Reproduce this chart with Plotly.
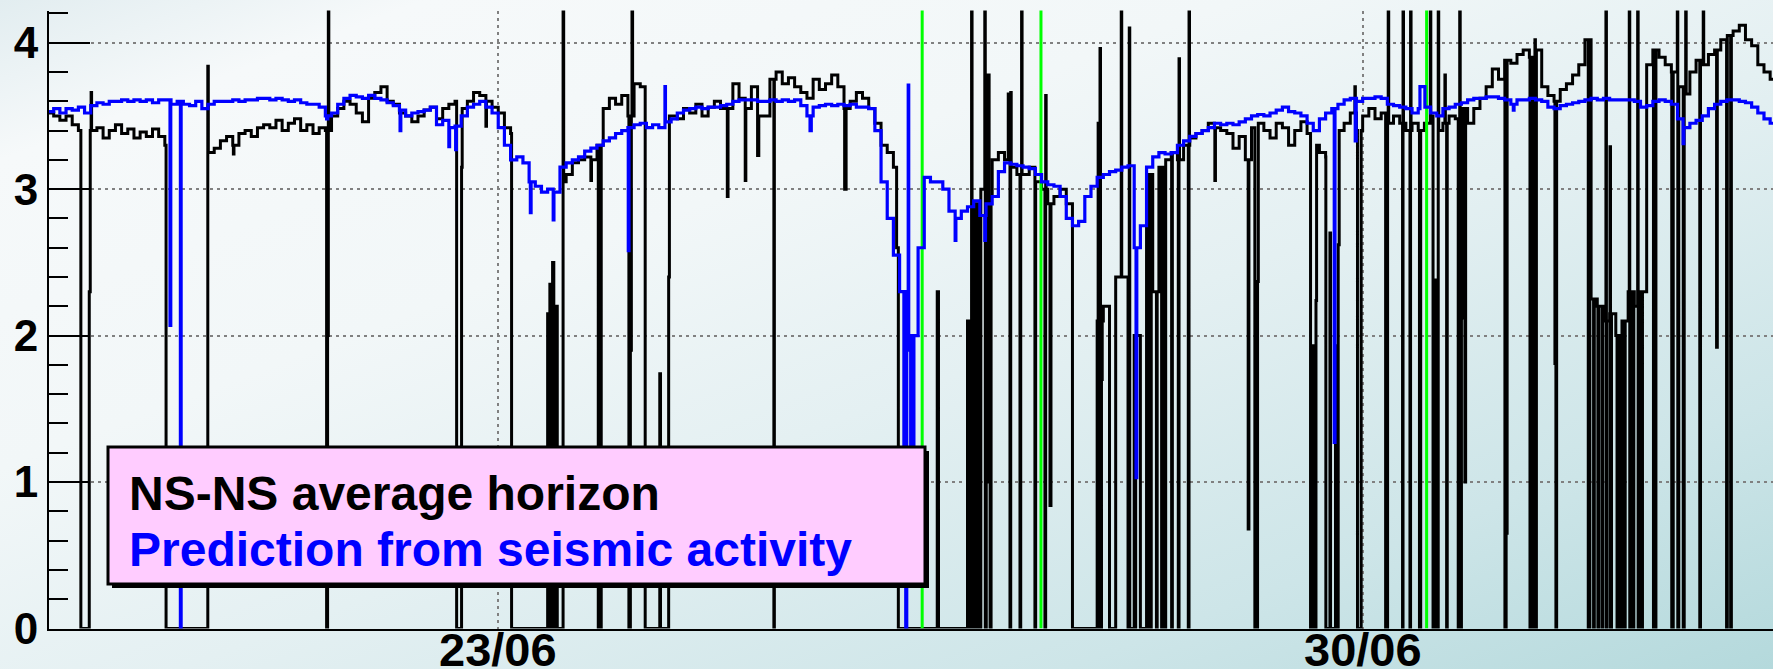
import base64
from bisect import bisect_right
from datetime import datetime, timedelta
import plotly.graph_objects as go

# ---------------- data (time in days of June; regular sampling) ----------------
T_START = 19.35
T_STEP = 0.05

# NS-NS average horizon (black), sampled every 0.05 day from 19.35
BLACK_V = [
    3.52, 3.50, 3.47, 3.50, 3.44, 3.40, 3.40, 3.40, 3.42, 3.35, 3.40, 3.44, 3.38,
    3.41, 3.35, 3.39, 3.36, 3.41, 3.36, 3.30, 3.35, 3.35, 3.35, 3.35, 3.35, 3.30, 3.25, 3.28, 3.33, 3.36, 3.30, 3.38, 3.40,
    3.36, 3.42, 3.44, 3.42, 3.47, 3.40, 3.45, 3.48, 3.40, 3.44, 3.38, 3.42, 3.40, 3.50, 3.55, 3.60, 3.58, 3.52, 3.46, 3.62,
    3.66, 3.70, 3.60, 3.58, 3.52, 3.50, 3.46, 3.50, 3.54, 3.56, 3.48, 3.55, 3.58, 3.60, 3.55, 3.60, 3.66, 3.64, 3.60, 3.56,
    3.52, 3.42, 3.38, 3.20, 3.20, 3.10, 3.00, 3.00, 3.00, 3.00, 3.05, 3.10, 3.18, 3.20, 3.22, 3.20, 3.30, 3.55, 3.62, 3.58,
    3.64, 3.50, 3.72, 3.70, 3.50, 3.50, 3.50, 3.50, 3.50, 3.48, 3.55, 3.52, 3.58, 3.50, 3.56, 3.60, 3.55, 3.55, 3.72, 3.62,
    3.55, 3.70, 3.50, 3.50, 3.75, 3.80, 3.72, 3.76, 3.70, 3.66, 3.62, 3.75, 3.68, 3.72, 3.78, 3.70, 3.55, 3.60, 3.66, 3.62,
    3.55, 3.45, 3.30, 3.25, 3.15, 0, 0, 0, 0, 0, 0, 0, 0, 0, 0, 0, 2.10, 2.90, 3.00, 2.95,
    3.20, 3.25, 3.20, 3.15, 3.10, 3.10, 3.15, 3.05, 3.00, 2.90, 2.95, 3.00, 2.90, 0, 0, 0, 0, 2.10, 2.20, 0,
    2.40, 2.40, 0, 2.00, 0, 3.10, 2.30, 3.15, 3.20, 3.25, 3.20, 3.30, 3.35, 3.38, 3.40, 3.45, 3.42, 3.40, 3.38, 3.28,
    3.36, 3.20, 3.42, 3.45, 3.40, 3.35, 3.45, 3.42, 3.30, 3.40, 3.46, 3.38, 3.30, 3.25, 3.22, 0, 3.40, 3.45, 3.52, 3.40,
    3.50, 3.55, 3.48, 3.52, 3.45, 3.50, 3.45, 3.40, 3.45, 3.40, 3.45, 3.50, 3.40, 3.45, 3.50, 3.48, 3.55, 3.45, 3.55, 3.62,
    3.70, 3.82, 3.75, 3.88, 3.86, 3.92, 3.95, 3.90, 3.95, 3.70, 3.64, 3.60, 3.68, 3.72, 3.78, 3.85, 4.02, 2.25, 2.20, 2.10,
    2.15, 2.00, 2.10, 2.30, 2.20, 2.30, 3.85, 3.95, 3.90, 3.85, 3.80, 3.70, 3.65, 3.80, 3.88, 3.85, 3.92, 3.95, 4.02, 4.05,
    4.08, 4.12, 4.02, 3.98, 3.85, 3.80, 3.75, 3.72,
]

# Prediction from seismic activity (blue), same sampling
BLUE_V = [
    3.53, 3.55, 3.52, 3.55, 3.54, 3.56, 3.52, 3.57, 3.59, 3.58, 3.60, 3.60, 3.61,
    3.60, 3.61, 3.60, 3.61, 3.59, 3.61, 3.61, 3.58, 3.60, 3.58, 3.57, 3.60, 3.55, 3.58, 3.60, 3.60, 3.60, 3.61, 3.60, 3.61,
    3.61, 3.62, 3.62, 3.61, 3.62, 3.61, 3.60, 3.61, 3.59, 3.58, 3.58, 3.56, 3.50, 3.52, 3.58, 3.62, 3.64, 3.63, 3.62, 3.64,
    3.62, 3.61, 3.59, 3.57, 3.54, 3.50, 3.52, 3.53, 3.54, 3.56, 3.44, 3.47, 3.42, 3.43, 3.50, 3.56, 3.58, 3.60, 3.56, 3.52,
    3.42, 3.30, 3.20, 3.22, 3.18, 3.05, 3.02, 2.98, 3.00, 2.98, 3.15, 3.18, 3.20, 3.22, 3.26, 3.28, 3.30, 3.33, 3.35, 3.38,
    3.40, 3.42, 3.44, 3.45, 3.42, 3.44, 3.42, 3.46, 3.48, 3.52, 3.54, 3.55, 3.56, 3.55, 3.56, 3.56, 3.57, 3.58, 3.60, 3.61,
    3.61, 3.61, 3.60, 3.60, 3.61, 3.60, 3.61, 3.60, 3.61, 3.57, 3.50, 3.56, 3.57, 3.58, 3.57, 3.58, 3.57, 3.58, 3.56, 3.56,
    3.55, 3.40, 3.05, 2.80, 2.55, 2.30, 1.90, 2.00, 2.60, 3.08, 3.05, 3.05, 3.00, 2.85, 2.80, 2.85, 2.88, 2.92, 2.82, 2.90,
    2.95, 3.12, 3.18, 3.17, 3.16, 3.15, 3.14, 3.10, 3.05, 3.03, 3.02, 2.95, 2.80, 2.75, 2.78, 2.95, 3.02, 3.08, 3.10, 3.12,
    3.13, 3.15, 3.16, 2.60, 2.75, 3.15, 3.22, 3.25, 3.24, 3.25, 3.30, 3.33, 3.36, 3.38, 3.40, 3.42, 3.45, 3.44, 3.45, 3.44,
    3.46, 3.48, 3.50, 3.51, 3.50, 3.52, 3.54, 3.56, 3.53, 3.52, 3.50, 3.45, 3.40, 3.48, 3.52, 3.55, 3.58, 3.61, 3.62, 3.60,
    3.62, 3.62, 3.63, 3.62, 3.58, 3.57, 3.56, 3.55, 3.52, 3.55, 3.56, 3.52, 3.50, 3.55, 3.56, 3.58, 3.59, 3.61, 3.62, 3.62,
    3.63, 3.63, 3.62, 3.61, 3.58, 3.61, 3.61, 3.62, 3.61, 3.60, 3.56, 3.55, 3.57, 3.58, 3.59, 3.60, 3.61, 3.62, 3.61, 3.62,
    3.61, 3.61, 3.61, 3.61, 3.60, 3.56, 3.57, 3.60, 3.61, 3.60, 3.58, 3.48, 3.42, 3.45, 3.47, 3.50, 3.55, 3.58, 3.60, 3.61,
    3.61, 3.60, 3.59, 3.56, 3.52, 3.48, 3.45, 3.44,
]

# short excursions of the black curve: (start day, value, duration in days)
BLACK_EVENTS = [
    (19.62, 0, 0.068), (19.688, 2.3, 0.008), (19.703, 3.66, 0.004),
    (20.31, 0, 0.338), (20.648, 3.84, 0.004), (20.855, 3.24, 0.005),
    (21.61, 0, 0.008), (21.618, 2.0, 0.006), (21.624, 4.6, 0.004),
    (22.663, 0, 0.04), (22.703, 3.15, 0.005), (22.90, 3.43, 0.005),
    (23.108, 0, 0.292), (23.40, 2.15, 0.008), (23.408, 0, 0.010), (23.418, 2.35, 0.010),
    (23.428, 0, 0.012), (23.44, 2.5, 0.010), (23.45, 0, 0.020), (23.47, 2.2, 0.008),
    (23.478, 0, 0.047), (23.525, 4.6, 0.005), (23.75, 3.06, 0.005),
    (23.81, 0, 0.006), (23.828, 0, 0.006),
    (24.058, 0, 0.012), (24.07, 1.9, 0.008), (24.083, 4.6, 0.005),
    (24.19, 0, 0.118), (24.308, 1.74, 0.006), (24.314, 0, 0.066), (24.38, 2.4, 0.006),
    (24.855, 2.95, 0.006), (25.00, 3.06, 0.005), (25.10, 3.23, 0.01), (25.232, 0, 0.004),
    (25.805, 3.0, 0.012),
    (26.226, 2.6, 0.014), (26.24, 0, 0.315), (26.555, 2.3, 0.01), (26.565, 0, 0.235),
    (26.80, 2.1, 0.01), (26.81, 0, 0.023), (26.833, 4.6, 0.004), (26.837, 0, 0.012),
    (26.87, 0, 0.008), (26.88, 1.5, 0.006), (26.90, 0, 0.008),
    (26.94, 4.6, 0.004), (26.944, 0, 0.008), (26.968, 3.78, 0.004),
    (26.975, 1.0, 0.008), (26.983, 0, 0.008),
    (27.13, 3.65, 0.004), (27.144, 0, 0.006), (27.15, 3.66, 0.004),
    (27.225, 0, 0.006), (27.238, 4.6, 0.004), (27.346, 0, 0.006),
    (27.427, 0, 0.006), (27.433, 3.64, 0.004), (27.468, 0.84, 0.008),
    (27.82, 0, 0.01), (27.858, 3.45, 0.004), (27.862, 0, 0.008), (27.873, 3.96, 0.004),
    (27.877, 0, 0.006), (27.885, 1.7, 0.006),
    (28.045, 4.6, 0.004), (28.11, 4.1, 0.004), (28.156, 0, 0.006),
    (28.264, 0, 0.008), (28.28, 0, 0.008), (28.33, 0, 0.006), (28.372, 0, 0.006),
    (28.399, 0, 0.006), (28.453, 0, 0.006), (28.507, 0, 0.006), (28.513, 3.89, 0.004),
    (28.588, 0, 0.006), (28.594, 4.6, 0.004), (28.803, 3.06, 0.005),
    (29.073, 0.68, 0.006), (29.127, 0, 0.022), (29.149, 2.37, 0.006),
    (29.578, 0, 0.02), (29.598, 1.93, 0.006), (29.604, 0, 0.018), (29.622, 2.24, 0.005),
    (29.702, 0, 0.033), (29.735, 2.7, 0.005), (29.74, 0, 0.04), (29.78, 1.93, 0.006),
    (29.786, 0, 0.016), (29.802, 2.62, 0.008),
    (29.937, 3.70, 0.004), (29.958, 0, 0.03),
    (30.186, 0, 0.016), (30.207, 4.6, 0.004), (30.323, 0, 0.004), (30.327, 4.6, 0.004),
    (30.383, 0, 0.005), (30.388, 4.6, 0.004), (30.46, 0, 0.01),
    (30.548, 4.6, 0.004), (30.57, 0, 0.02), (30.59, 2.38, 0.012), (30.602, 0, 0.01),
    (30.612, 4.6, 0.004), (30.666, 3.78, 0.004), (30.68, 0, 0.005),
    (30.774, 0, 0.012), (30.786, 4.6, 0.004), (30.79, 0, 0.01), (30.80, 2.12, 0.006),
    (30.828, 1.0, 0.006),
    (31.152, 0, 0.010), (31.162, 0.65, 0.008),
    (31.355, 0, 0.008), (31.374, 0, 0.006), (31.395, 4.02, 0.004), (31.399, 0, 0.008),
    (31.557, 1.81, 0.008), (31.565, 0, 0.006),
    (31.827, 0, 0.013), (31.87, 0, 0.006), (31.905, 0, 0.008), (31.94, 0, 0.006),
    (31.97, 4.6, 0.004), (31.974, 0, 0.006), (32.003, 3.29, 0.004), (32.007, 0, 0.008),
    (32.06, 0, 0.006), (32.09, 0, 0.008), (32.12, 0, 0.006),
    (32.159, 4.6, 0.004), (32.163, 0, 0.008), (32.19, 0, 0.006),
    (32.227, 4.6, 0.004), (32.231, 0, 0.006), (32.26, 0, 0.006),
    (32.355, 0, 0.02), (32.503, 0, 0.012), (32.548, 4.6, 0.004), (32.552, 0, 0.008),
    (32.596, 0, 0.008), (32.616, 4.6, 0.004), (32.73, 0, 0.006), (32.758, 4.6, 0.004),
    (32.866, 1.92, 0.006), (32.947, 0, 0.006), (32.98, 0, 0.006),
]

# short excursions of the blue curve
BLUE_EVENTS = [
    (20.342, 2.07, 0.006), (20.426, 0, 0.006), (21.61, 3.48, 0.01),
    (22.205, 3.40, 0.006), (22.60, 3.29, 0.006), (22.655, 3.27, 0.006),
    (23.26, 2.84, 0.006), (23.445, 2.79, 0.006), (24.053, 2.58, 0.006),
    (24.35, 3.70, 0.004), (25.525, 3.40, 0.01),
    (26.285, 0.8, 0.006), (26.30, 0, 0.008), (26.32, 3.71, 0.004),
    (26.34, 1.0, 0.006), (26.36, 0.5, 0.006),
    (26.70, 2.65, 0.006), (26.94, 2.65, 0.006),
    (28.165, 1.03, 0.006), (29.77, 1.27, 0.006), (29.94, 3.33, 0.008),
    (30.464, 3.70, 0.04), (31.22, 3.54, 0.006), (32.595, 3.31, 0.006),
]

# vertical green markers (day of June)
GREEN_T = [26.433, 27.395, 30.518]

X_RANGE = (19.362, 33.323)
Y_RANGE = (0, 4.22)
X_TICKS = [23, 30]
X_TICKTEXT = ["23/06", "30/06"]
Y_TICKS = [0, 1, 2, 3, 4]

LEGEND_LINES = ["NS-NS average horizon", "Prediction from seismic activity"]

# ---------------- helpers ----------------
BASE = datetime(2009, 6, 1)


def to_dt(t):
    return BASE + timedelta(days=t - 1)


def merge(base_v, events):
    base_t = [T_START + i * T_STEP for i in range(len(base_v))]
    ev = sorted(events)

    def base_at(t):
        i = bisect_right(base_t, t + 1e-9) - 1
        return base_v[max(i, 0)]

    pts = [(t, v) for t, v in zip(base_t, base_v)
           if not any(s - 1e-9 <= t <= s + d + 1e-9 for s, _, d in ev)]
    for i, (s, v, d) in enumerate(ev):
        pts.append((s, v))
        e = s + d
        if i + 1 < len(ev) and ev[i + 1][0] <= e + 0.003:
            continue
        pts.append((e, base_at(e)))
    pts.sort(key=lambda p: p[0])
    return [to_dt(t) for t, _ in pts], [v for _, v in pts]


W, H = 1773, 669
PL, PT, PB = 49, 10.5, 628.5


def px(x):
    return x / W


def py(y):
    return 1 - y / H


bx, by = merge(BLACK_V, BLACK_EVENTS)
ux, uy = merge(BLUE_V, BLUE_EVENTS)

gx, gy = [], []
for t in GREEN_T:
    gx += [to_dt(t), to_dt(t), None]
    gy += [0, 4.5, None]

fig = go.Figure()
fig.add_trace(go.Scatter(x=bx, y=by, mode="lines",
                         line=dict(color="black", width=3, shape="hv"),
                         hoverinfo="skip"))
fig.add_trace(go.Scatter(x=gx, y=gy, mode="lines",
                         line=dict(color="#00ff00", width=3),
                         hoverinfo="skip"))
fig.add_trace(go.Scatter(x=ux, y=uy, mode="lines",
                         line=dict(color="#0000ff", width=3.2, shape="hv"),
                         hoverinfo="skip"))

# background gradient as an SVG image
svg = (
    '<svg xmlns="http://www.w3.org/2000/svg" width="1773" height="669" preserveAspectRatio="none">'
    '<defs><linearGradient id="g" x1="0" y1="0" x2="1" y2="1">'
    '<stop offset="0" stop-color="#e2edf0"/>'
    '<stop offset="0.12" stop-color="#f6f9fa"/>'
    '<stop offset="0.35" stop-color="#f2f7f8"/>'
    '<stop offset="0.55" stop-color="#e4f0f2"/>'
    '<stop offset="0.8" stop-color="#cde5e8"/>'
    '<stop offset="1" stop-color="#b4d9dc"/>'
    '</linearGradient></defs>'
    '<rect width="1773" height="669" fill="url(#g)"/></svg>'
)
src = "data:image/svg+xml;base64," + base64.b64encode(svg.encode()).decode()

FONT = "Liberation Sans, Arial, Helvetica, sans-serif"
grid_style = dict(gridcolor="#808080", gridwidth=2, griddash="3px,4px")

# date labels placed just under the time axis
x_label_annots = [
    dict(xref="x", yref="paper", x=to_dt(t), y=py(621), xanchor="center",
         yanchor="top", showarrow=False, text="<b>%s</b>" % s,
         font=dict(family=FONT, size=47, color="black"))
    for t, s in zip(X_TICKS, X_TICKTEXT)
]

fig.update_layout(
    width=W, height=H,
    margin=dict(l=0, r=0, t=0, b=0, autoexpand=False),
    paper_bgcolor="#e8f2f4",
    plot_bgcolor="rgba(0,0,0,0)",
    showlegend=False,
    hovermode=False,
    images=[dict(source=src, xref="paper", yref="paper", x=0, y=1, sizex=1, sizey=1,
                 sizing="stretch", xanchor="left", yanchor="top", layer="below")],
    xaxis=dict(
        type="date",
        automargin=False,
        domain=[px(PL), 1],
        range=[to_dt(X_RANGE[0]), to_dt(X_RANGE[1])],
        tickmode="array",
        tickvals=[to_dt(t) for t in X_TICKS],
        showticklabels=False,
        ticks="",
        showline=True, linecolor="black", linewidth=2,
        showgrid=True, zeroline=False,
        **grid_style,
    ),
    yaxis=dict(
        automargin=False,
        domain=[py(PB), py(PT)],
        range=list(Y_RANGE),
        tickmode="array",
        tickvals=Y_TICKS,
        ticktext=["<b>%d</b>" % v for v in Y_TICKS],
        tickfont=dict(family=FONT, size=44, color="black"),
        ticks="inside", ticklen=41, tickwidth=2, tickcolor="black",
        ticklabelstandoff=0,
        minor=dict(tickmode="linear", tick0=0, dtick=0.2, ticks="inside",
                   ticklen=19, tickwidth=2, tickcolor="black", showgrid=False),
        showline=True, linecolor="black", linewidth=2,
        showgrid=True, zeroline=False,
        **grid_style,
    ),
    shapes=[
        dict(type="rect", xref="paper", yref="paper",
             x0=px(112), x1=px(929), y0=py(588), y1=py(451),
             fillcolor="black", line=dict(width=0)),
        dict(type="rect", xref="paper", yref="paper",
             x0=px(108), x1=px(925), y0=py(584), y1=py(447),
             fillcolor="#ffccff", line=dict(color="black", width=3)),
    ],
    annotations=x_label_annots + [
        dict(xref="paper", yref="paper", x=px(127), y=py(493), xanchor="left",
             yanchor="middle", showarrow=False,
             text="<b>%s</b>" % LEGEND_LINES[0],
             font=dict(family=FONT, size=48, color="black")),
        dict(xref="paper", yref="paper", x=px(127), y=py(549), xanchor="left",
             yanchor="middle", showarrow=False,
             text="<b>%s</b>" % LEGEND_LINES[1],
             font=dict(family=FONT, size=48, color="#0000ff")),
    ],
)

fig.write_html("out.html")
